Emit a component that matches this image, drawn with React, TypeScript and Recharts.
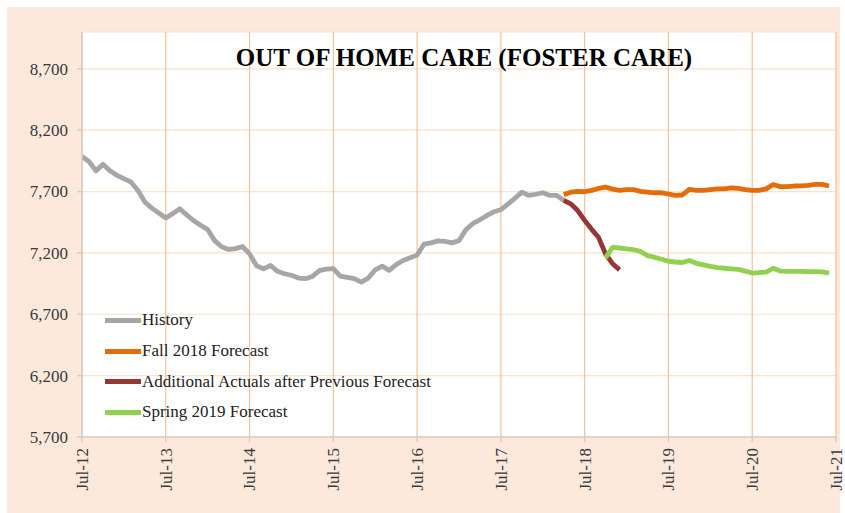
import React from 'react';
import { LineChart, Line, XAxis, YAxis, CartesianGrid } from 'recharts';

// Month index 0 = Jul-12 ... 108 = Jul-21
const tickLabels = ['Jul-12', 'Jul-13', 'Jul-14', 'Jul-15', 'Jul-16', 'Jul-17', 'Jul-18', 'Jul-19', 'Jul-20', 'Jul-21'];
const yTicks = [5700, 6200, 6700, 7200, 7700, 8200, 8700];

const historyStart = 0;
const history = [
  7985, 7945, 7868, 7922, 7870, 7832, 7805, 7778, 7710, 7615, 7565, 7525,
  7485, 7520, 7560, 7510, 7462, 7425, 7390, 7300, 7250, 7228, 7235, 7252,
  7192, 7095, 7070, 7098, 7050, 7030, 7018, 6995, 6990, 7008, 7055, 7068,
  7072, 7010, 7000, 6990, 6962, 6995, 7062, 7092, 7058, 7105, 7138, 7160,
  7182, 7272, 7282, 7298, 7294, 7282, 7300, 7390, 7440, 7470, 7505, 7535,
  7552, 7598, 7645, 7695, 7668, 7678, 7690, 7668, 7668, 7628,
];

const fallStart = 69;
const fall2018 = [
  7675, 7695, 7702, 7700, 7710, 7725, 7736, 7720, 7710, 7715, 7716, 7702,
  7696, 7690, 7690, 7680, 7668, 7672, 7718, 7710, 7710, 7716, 7722, 7722,
  7730, 7726, 7716, 7710, 7710, 7722, 7757, 7740, 7740, 7745, 7746, 7750,
  7758, 7758, 7745,
];

const additionalStart = 69;
const additional = [7628, 7600, 7545, 7465, 7392, 7325, 7190, 7112, 7062];

const springStart = 75;
const spring2019 = [
  7160, 7245, 7240, 7232, 7226, 7212, 7178, 7165, 7148, 7132, 7126, 7122,
  7138, 7115, 7102, 7090, 7080, 7075, 7070, 7066, 7052, 7036, 7040, 7044,
  7075, 7052, 7050, 7050, 7049, 7048, 7048, 7046, 7036,
];

const seriesDefs = [
  { key: 'history', name: 'History', color: '#a6a6a6', start: historyStart, values: history },
  { key: 'fall', name: 'Fall 2018 Forecast', color: '#e46c0a', start: fallStart, values: fall2018 },
  { key: 'additional', name: 'Additional Actuals after Previous Forecast', color: '#953735', start: additionalStart, values: additional },
  { key: 'spring', name: 'Spring 2019 Forecast', color: '#92d050', start: springStart, values: spring2019 },
];

const data = Array.from({ length: 109 }, (_, m) => {
  const row: any = { m };
  seriesDefs.forEach((s) => {
    const i = m - s.start;
    row[s.key] = i >= 0 && i < s.values.length ? s.values[i] : null;
  });
  return row;
});

const FONT = '"Liberation Serif", "Times New Roman", serif';

const XTick = (props: any) => {
  const { x, y, payload } = props;
  const label = tickLabels[Math.round(payload.value / 12)];
  return (
    <text
      x={x}
      y={y}
      transform={`rotate(-90, ${x}, ${y})`}
      textAnchor="end"
      dy="0.35em"
      fontFamily={FONT}
      fontSize={17}
      fill="#3a3a3a"
    >
      {label}
    </text>
  );
};

const YTick = (props: any) => {
  const { x, y, payload } = props;
  return (
    <text x={x} y={y} textAnchor="end" dy="0.35em" fontFamily={FONT} fontSize={17} fill="#3a3a3a">
      {payload.value.toLocaleString('en-US')}
    </text>
  );
};

export default function App() {
  return (
    <div
      style={{
        position: 'absolute',
        left: 7,
        top: 7,
        width: 833,
        height: 506,
        background: '#fce9db',
      }}
    >
      <LineChart
        width={838}
        height={506}
        data={data}
        margin={{ top: 25, right: 9, bottom: 0, left: 0 }}
      >
        <CartesianGrid fill="#ffffff" stroke="#fbe0cc" vertical={false} strokeWidth={1.2} />
        <CartesianGrid stroke="#f6c196" horizontal={false} strokeWidth={1.2} />
        <XAxis
          dataKey="m"
          type="number"
          domain={[0, 108]}
          ticks={[0, 12, 24, 36, 48, 60, 72, 84, 96, 108]}
          interval={0}
          height={76}
          tick={<XTick />}
          tickSize={5}
          tickMargin={6}
          stroke="#d6ccc4"
          strokeWidth={1.5}
          allowDataOverflow
        />
        <YAxis
          type="number"
          domain={[5700, 9000]}
          ticks={yTicks}
          width={75}
          tick={<YTick />}
          tickSize={5}
          tickMargin={9}
          stroke="#d6ccc4"
          strokeWidth={1.5}
          interval={0}
          allowDataOverflow
        />
        {seriesDefs.map((s) => (
          <Line
            key={s.key}
            dataKey={s.key}
            name={s.name}
            stroke={s.color}
            strokeWidth={4.8}
            dot={false}
            activeDot={false}
            isAnimationActive={false}
            connectNulls={false}
            type="linear"
            strokeLinejoin="round"
          />
        ))}
      </LineChart>
      <div
        style={{
          position: 'absolute',
          left: 0,
          width: 914,
          top: 37,
          textAlign: 'center',
          fontFamily: FONT,
          fontWeight: 'bold',
          fontSize: 25,
          color: '#000',
          lineHeight: '28px',
          pointerEvents: 'none',
        }}
      >
        OUT OF HOME CARE (FOSTER CARE)
      </div>
      <div
        style={{
          position: 'absolute',
          left: 98,
          top: 298,
          fontFamily: FONT,
          fontSize: 17,
          color: '#222',
        }}
      >
        {seriesDefs.map((s) => (
          <div key={s.key} style={{ display: 'flex', alignItems: 'center', height: 30.7, whiteSpace: 'nowrap' }}>
            <span style={{ display: 'inline-block', width: 36, height: 5, background: s.color, marginRight: 1 }} />
            <span>{s.name}</span>
          </div>
        ))}
      </div>
    </div>
  );
}
